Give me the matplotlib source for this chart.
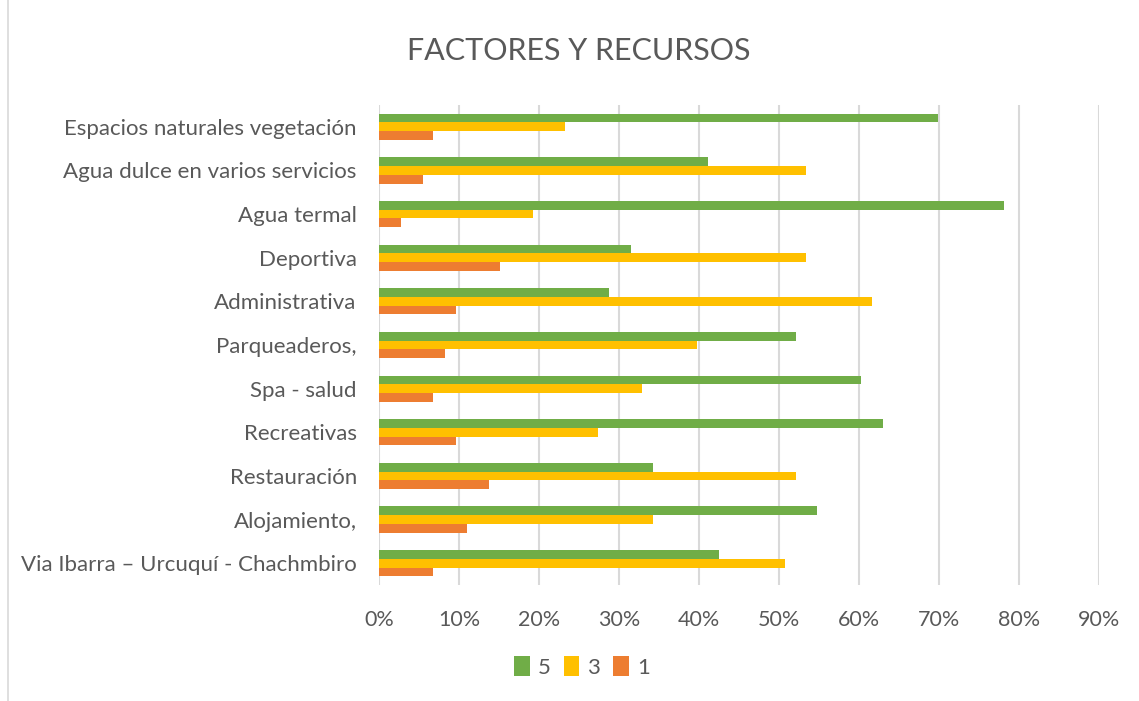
import matplotlib.pyplot as plt
import matplotlib.patches as patches
import numpy as np

plt.rcParams['font.family'] = ['Lato', 'DejaVu Sans']

categories = [
    "Espacios naturales vegetación",
    "Agua dulce en varios servicios",
    "Agua termal",
    "Deportiva",
    "Administrativa",
    "Parqueaderos,",
    "Spa - salud",
    "Recreativas",
    "Restauración",
    "Alojamiento,",
    "Via Ibarra – Urcuquí - Chachmbiro",
]
# share of answers per score (percent)
score5 = [69.9, 41.1, 78.1, 31.5, 28.8, 52.1, 60.3, 63.0, 34.2, 54.8, 42.5]
score3 = [23.3, 53.4, 19.2, 53.4, 61.6, 39.7, 32.9, 27.4, 52.1, 34.2, 50.7]
score1 = [6.8, 5.5, 2.7, 15.1, 9.6, 8.2, 6.8, 9.6, 13.7, 11.0, 6.8]
xticks = [0, 10, 20, 30, 40, 50, 60, 70, 80, 90]

text_color = "#595959"
grid_color = "#D9D9D9"

fig = plt.figure(figsize=(11.39, 7.01), dpi=100)
ax = fig.add_axes([379 / 1139, 1 - 585 / 701, 720 / 1139, 480 / 701])

y = np.arange(len(categories))
h = 0.2
ax.barh(y - h, score5, height=h, color="#70AD47", label="5", zorder=3)
ax.barh(y, score3, height=h, color="#FFC000", label="3", zorder=3)
ax.barh(y + h, score1, height=h, color="#ED7D31", label="1", zorder=3)

ax.set_xlim(0, 90)
ax.set_ylim(len(categories) - 0.5, -0.5)
ax.set_xticks(xticks)
ax.set_xticklabels([f"{t}%" for t in xticks])
ax.set_yticks(y)
ax.set_yticklabels(categories)
ax.tick_params(axis="y", length=0, pad=16, labelsize=16, labelcolor=text_color)
ax.tick_params(axis="x", length=0, pad=18, labelsize=15.5, labelcolor=text_color)
ax.grid(axis="x", color=grid_color, linewidth=1.5, zorder=0)
for s in ["top", "right", "bottom", "left"]:
    ax.spines[s].set_visible(False)

fig.text(579 / 1139, 1 - 51 / 701, "FACTORES Y RECURSOS", ha="center", va="center",
         fontsize=22, color=text_color)

leg = fig.legend(loc="center", bbox_to_anchor=(582 / 1139, 1 - 667 / 701), ncol=3,
                 frameon=False, fontsize=16, labelcolor=text_color, handlelength=0.7,
                 handleheight=0.95, handletextpad=0.35, columnspacing=0.6)

border = patches.Rectangle((8 / 1139, -0.01), 1.2, 1.2, transform=fig.transFigure,
                           fill=False, edgecolor=grid_color, linewidth=1.2)
fig.patches.append(border)

fig.savefig("out.png", dpi=100)
